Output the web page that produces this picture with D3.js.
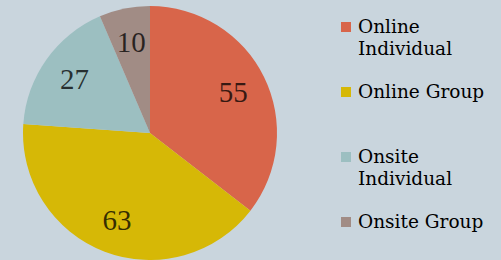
<!DOCTYPE html>
<html>
<head>
<meta charset="utf-8">
<script src="https://cdn.jsdelivr.net/npm/d3@7"></script>
<style>
  body { margin: 0; background: #c9d5dd; }
  svg { display: block; }
</style>
</head>
<body>
<script>
// data
var categories = ["Online Individual", "Online Group", "Onsite Individual", "Onsite Group"];
var values = [55, 63, 27, 10];
var colors = ["#d8654a", "#d6b806", "#9cbfc1", "#a18c85"];
var legendLines = [["Online", "Individual"], ["Online Group"], ["Onsite", "Individual"], ["Onsite Group"]];

var width = 501, height = 260;
var cx = 150, cy = 133, radius = 127;

var svg = d3.select("body")
  .append("svg")
    .attr("width", width)
    .attr("height", height);

svg.append("rect")
  .attr("width", width)
  .attr("height", height)
  .attr("fill", "#c9d5dd");

// pie starts at 12 o'clock, clockwise, no sorting
var pie = d3.pie().sort(null).value(function(d){ return d; });
var arcs = pie(values);

var arc = d3.arc().innerRadius(0).outerRadius(radius);
var labelArc = d3.arc().innerRadius(radius * 0.73).outerRadius(radius * 0.73);

var g = svg.append("g")
  .attr("transform", "translate(" + cx + "," + cy + ")");

g.selectAll("path")
  .data(arcs)
  .enter()
  .append("path")
    .attr("d", arc)
    .attr("fill", function(d, i){ return colors[i]; });

g.selectAll("text")
  .data(arcs)
  .enter()
  .append("text")
    .attr("transform", function(d){ return "translate(" + labelArc.centroid(d) + ")"; })
    .attr("text-anchor", "middle")
    .attr("dominant-baseline", "central")
    .style("font-family", "'Liberation Serif', serif")
    .style("font-size", "29px")
    .attr("fill", "#000")
    .attr("fill-opacity", 0.75)
    .text(function(d){ return d.data; });

// legend
var legend = svg.append("g").attr("transform", "translate(341,0)");

var item = legend.selectAll("g")
  .data(categories)
  .enter()
  .append("g")
    .attr("transform", function(d, i){ return "translate(0," + (22 + i * 65) + ")"; });

item.append("rect")
  .attr("width", 10)
  .attr("height", 10)
  .attr("fill", function(d, i){ return colors[i]; });

item.append("text")
  .attr("x", 17)
  .attr("y", 11)
  .style("font-family", "'DejaVu Serif', serif")
  .style("font-size", "18.5px")
  .attr("fill", "#000")
  .selectAll("tspan")
  .data(function(d, i){ return legendLines[i]; })
  .enter()
  .append("tspan")
    .attr("x", 17)
    .attr("dy", function(d, j){ return j === 0 ? 0 : 22; })
    .text(function(d){ return d; });
</script>
</body>
</html>
